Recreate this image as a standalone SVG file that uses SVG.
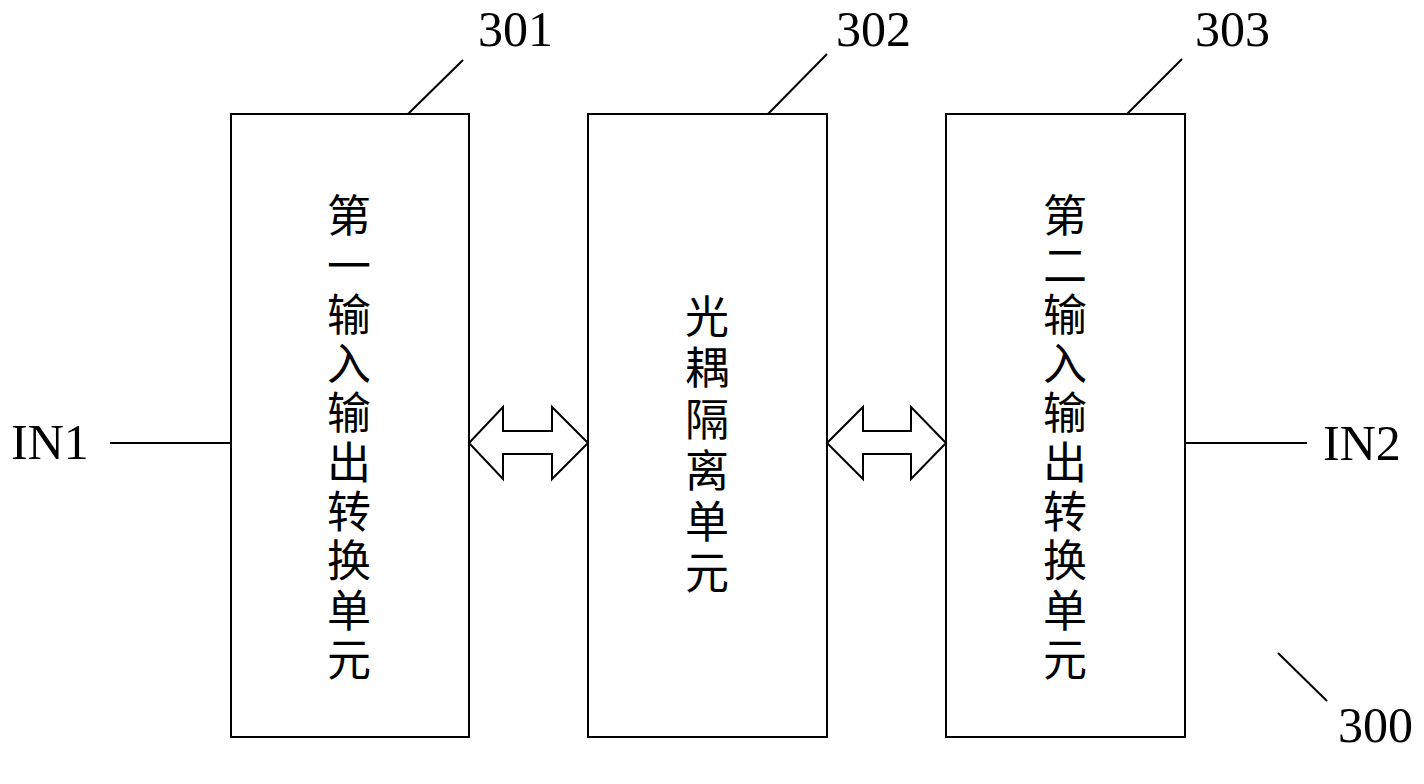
<svg xmlns="http://www.w3.org/2000/svg" width="1424" height="784" viewBox="0 0 1424 784">
<style>
.box{fill:#fff;stroke:#000;stroke-width:2}
.ln{stroke:#000;stroke-width:2;fill:none}
.arr{fill:#fff;stroke:#000;stroke-width:2;stroke-linejoin:miter}
.lat{font-family:"Liberation Serif","Times New Roman",serif;font-size:50px;fill:#000}
.cjk{font-family:"Noto Sans CJK SC","Noto Sans CJK JP",sans-serif;font-size:44px;fill:#000;text-anchor:middle;writing-mode:vertical-rl}
</style>
<rect width="1424" height="784" fill="#fff"/>
<g id="node-301">
<rect class="box" x="231" y="114" width="238" height="623"/>
<text class="cjk" x="349" y="440" letter-spacing="5.3">第一输入输出转换单元</text>
</g>
<g id="node-302">
<rect class="box" x="588" y="114" width="239" height="623"/>
<text class="cjk" x="707" y="448" letter-spacing="7.2">光耦隔离单元</text>
</g>
<g id="node-303">
<rect class="box" x="946" y="114" width="239" height="623"/>
<text class="cjk" x="1065" y="440" letter-spacing="5.3">第二输入输出转换单元</text>
</g>
<g id="labels">
<text class="lat" x="478" y="46">301</text>
<text class="lat" x="836" y="46">302</text>
<text class="lat" x="1195" y="46">303</text>
<text class="lat" x="1338" y="742">300</text>
<text class="lat" x="11" y="459">IN1</text>
<text class="lat" x="1323" y="460">IN2</text>
</g>
<g id="connectors">
<line class="ln" x1="463" y1="60" x2="408" y2="114"/>
<line class="ln" x1="827" y1="54" x2="768" y2="114"/>
<line class="ln" x1="1182" y1="59" x2="1127" y2="114"/>
<line class="ln" x1="1278" y1="653" x2="1327" y2="701"/>
<line class="ln" x1="110" y1="443" x2="231" y2="443"/>
<line class="ln" x1="1185" y1="443" x2="1307" y2="443"/>
<polygon class="arr" points="469,443 503,407 503,431 552,431 552,407 588,443 552,479 552,454 503,454 503,479"/>
<polygon class="arr" points="827,443 863,407 863,431 911,431 911,407 946,443 911,479 911,454 863,454 863,479"/>
</g>
</svg>
